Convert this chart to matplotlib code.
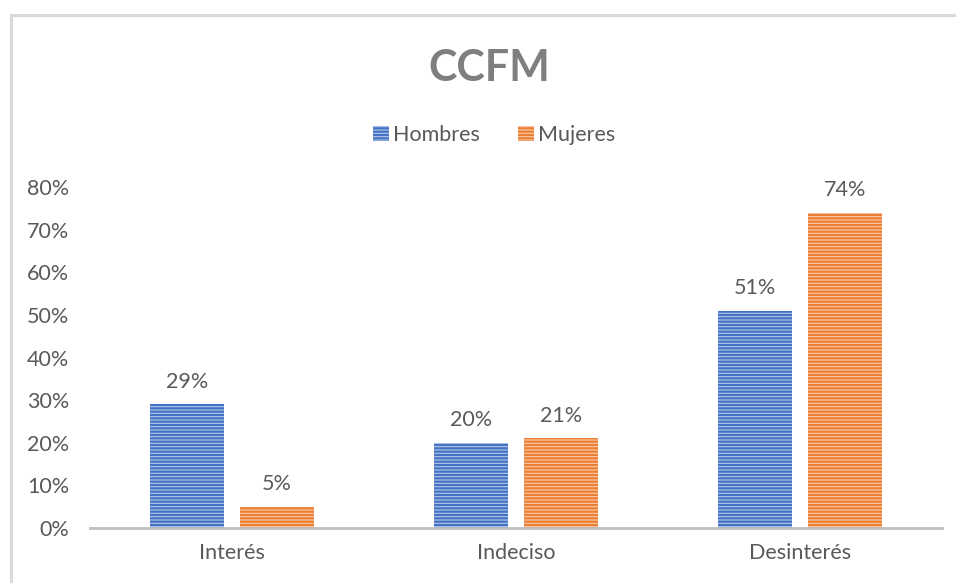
import matplotlib
matplotlib.use("Agg")
import matplotlib.pyplot as plt
import numpy as np
from matplotlib.lines import Line2D

categories = ["Interés", "Indeciso", "Desinterés"]
series_names = ["Hombres", "Mujeres"]
hombres = [0.29, 0.20, 0.51]
mujeres = [0.05, 0.21, 0.74]
yticks = [0, 0.1, 0.2, 0.3, 0.4, 0.5, 0.6, 0.7, 0.8]
title = "CCFM"

plt.rcParams['font.family'] = ['Lato', 'DejaVu Sans']
plt.rcParams['hatch.linewidth'] = 1.6

W, H = 956, 583
fig = plt.figure(figsize=(W/100, H/100), dpi=100)

# outer chart border (left and top visible)
bx, by = 10.5/W, 1 - 14.5/H
fig.lines.append(Line2D([bx, bx], [0, by], transform=fig.transFigure, color="#D9D9D9", linewidth=2.2))
fig.lines.append(Line2D([bx, 1], [by, by], transform=fig.transFigure, color="#D9D9D9", linewidth=2.2))

left, right = 90/W, 942/W
bottom, top = 1 - 528/H, 1 - 187/H
ax = fig.add_axes([left, bottom, right-left, top-bottom])

x = np.arange(len(categories))
off = 45/284
bw = 74/284
txt = "#595959"

blue_face, blue_hatch = "#B4C7E7", "#4472C4"
orange_face, orange_hatch = "#F8CBAD", "#ED7D31"

for vals, dx, fc, hc, name in [(hombres, -off, blue_face, blue_hatch, series_names[0]),
                               (mujeres, off, orange_face, orange_hatch, series_names[1])]:
    bars = ax.bar(x + dx, vals, width=bw, color=fc, edgecolor=hc, hatch="-----",
                  linewidth=0, label=name)
    for b, v in zip(bars, vals):
        ax.annotate(f"{int(round(v*100))}%", (b.get_x() + b.get_width()/2, v),
                    xytext=(0, 9), textcoords="offset points", ha="center", va="bottom",
                    fontsize=15.5, color=txt)

ax.set_xlim(-0.5, 2.5)
ax.set_ylim(0, 0.8)
ax.set_yticks(yticks)
ax.set_yticklabels([f"{int(round(t*100))}%" for t in yticks])
ax.set_xticks(x)
ax.set_xticklabels(categories)
ax.tick_params(axis="both", length=0, labelsize=15.5, labelcolor=txt)
ax.tick_params(axis="y", pad=15)
ax.tick_params(axis="x", pad=11)
for s in ["top", "right", "left"]:
    ax.spines[s].set_visible(False)
ax.spines["bottom"].set_color("#BFBFBF")
ax.spines["bottom"].set_linewidth(2)

fig.text(489/W, 1 - 68/H, title, ha="center", va="center", fontsize=31, fontweight="bold",
         color="#7F7F7F")

leg = fig.legend(loc="center", bbox_to_anchor=(494/W, 1 - 135/H), ncol=2, frameon=False,
                 fontsize=15.5, handlelength=0.75, handleheight=0.75, handletextpad=0.15,
                 columnspacing=1.8)
for t in leg.get_texts():
    t.set_color(txt)

fig.savefig("out.png", dpi=100)
